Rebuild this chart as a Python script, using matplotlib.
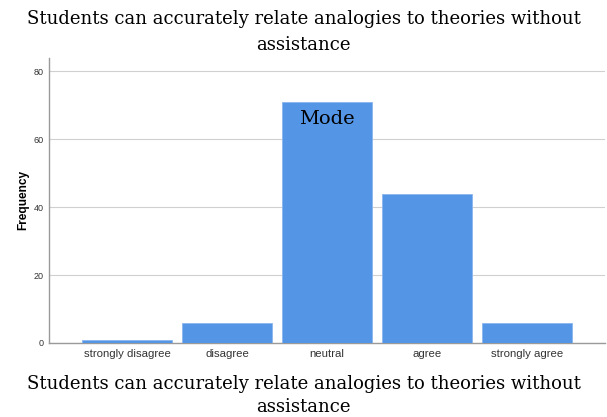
import matplotlib.pyplot as plt

categories = ["strongly disagree", "disagree", "neutral", "agree", "strongly agree"]
counts = [1, 6, 71, 44, 6]
yticks = [0, 20, 40, 60, 80]
title = "Students can accurately relate analogies to theories without\nassistance"

fig = plt.figure(figsize=(6.07, 4.17), dpi=100)
fig.patch.set_facecolor("white")
ax = fig.add_axes([0.0807, 0.1775, 0.916, 0.684])

x = list(range(len(categories)))
ax.bar(x, counts, width=0.9, color="#5595e5", edgecolor="#8ab6ee", linewidth=0.6, zorder=3)

ax.set_xlim(-0.78, 4.78)
ax.set_ylim(0, 84)
ax.set_yticks(yticks)
ax.set_xticks(x)
ax.set_xticklabels(categories, fontsize=8.2, family="Liberation Sans", color="#333333")
ax.set_yticklabels([str(t) for t in yticks], fontsize=6.5, family="Liberation Sans", color="#333333")
ax.tick_params(axis="both", length=0, pad=4)
ax.set_ylabel("Frequency", fontsize=8.6, fontweight="bold", family="Liberation Sans", labelpad=3)

ax.grid(axis="y", color="#d0d0d0", linewidth=0.8, zorder=0)
for side in ["top", "right"]:
    ax.spines[side].set_visible(False)
for side in ["left", "bottom"]:
    ax.spines[side].set_color("#9a9a9a")
    ax.spines[side].set_linewidth(1)

# label on the tallest bar
top = counts.index(max(counts))
ax.text(x[top], max(counts) - 2.5, "Mode", ha="center", va="top", fontsize=14,
        family="DejaVu Serif", color="black", zorder=4)

fig.text(0.5, 0.975, title, ha="center", va="top", fontsize=13,
         family="DejaVu Serif", linespacing=1.55)
fig.text(0.5, 0.1, title, ha="center", va="top", fontsize=13,
         family="DejaVu Serif", linespacing=1.35)

fig.savefig("out.png", dpi=100)
